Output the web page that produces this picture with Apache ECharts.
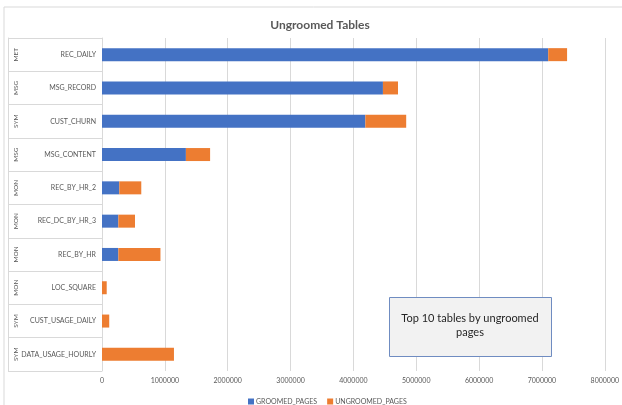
<!DOCTYPE html>
<html>
<head>
<meta charset="utf-8">
<script src="https://cdn.jsdelivr.net/npm/echarts@6/dist/echarts.min.js"></script>
<style>
html,body{margin:0;padding:0;background:#fff;}
#c{width:622px;height:405px;}
</style>
</head>
<body>
<div id="c"></div>
<script>
var categories = ['REC_DAILY','MSG_RECORD','CUST_CHURN','MSG_CONTENT','REC_BY_HR_2','REC_DC_BY_HR_3','REC_BY_HR','LOC_SQUARE','CUST_USAGE_DAILY','DATA_USAGE_HOURLY'];
var groups = ['MET','MSG','SYM','MSG','MON','MON','MON','MON','SYM','SYM'];
var groomedPages = [7100000, 4470000, 4190000, 1335000, 275000, 260000, 260000, 0, 0, 0];
var ungroomedPages = [300000, 240000, 650000, 385000, 350000, 265000, 670000, 75000, 115000, 1145000];
var xTicks = { min: 0, max: 8000000, interval: 1000000 };
var titleText = 'Ungroomed Tables';
var noteText = 'Top 10 tables by ungroomed\npages';

var FONT = 'Lato';
var chart = echarts.init(document.getElementById('c'), null, {renderer: 'canvas'});
chart.setOption({
  animation: false,
  backgroundColor: '#ffffff',
  textStyle: {fontFamily: FONT},
  title: {
    text: titleText, left: 315, top: 14, textAlign: 'center',
    textStyle: {fontFamily: FONT, fontSize: 12, fontWeight: 'bold', color: '#595959'}
  },
  legend: {
    left: 243, top: 393, icon: 'rect', itemWidth: 6, itemHeight: 6, itemGap: 10,
    textStyle: {fontFamily: FONT, fontSize: 7, color: '#595959', padding: [0,0,0,-3]},
    data: ['GROOMED_PAGES','UNGROOMED_PAGES']
  },
  grid: {left: 102, top: 38, right: 17, bottom: 34, containLabel: false},
  xAxis: {
    type: 'value', min: xTicks.min, max: xTicks.max, interval: xTicks.interval,
    axisLine: {show: false}, axisTick: {show: false},
    axisLabel: {fontFamily: FONT, fontSize: 7, color: '#595959', margin: 6,
      formatter: function (v) { return String(v); }},
    splitLine: {lineStyle: {color: '#d9d9d9', width: 1}}
  },
  yAxis: [{
    type: 'category', data: categories, inverse: true,
    axisLine: {show: true, lineStyle: {color: '#d9d9d9'}},
    axisTick: {show: true, length: 94, lineStyle: {color: '#d9d9d9'}},
    axisLabel: {fontFamily: FONT, fontSize: 7, color: '#595959', margin: 6}
  }, {
    type: 'category', data: groups, inverse: true, position: 'left', offset: 94,
    axisLine: {show: true, lineStyle: {color: '#d9d9d9'}},
    axisTick: {show: false},
    axisLabel: {fontFamily: FONT, fontSize: 6.5, color: '#595959', rotate: 90, margin: -11}
  }],
  series: [{
    name: 'GROOMED_PAGES', type: 'bar', stack: 'total', data: groomedPages,
    barWidth: 13, itemStyle: {color: '#4472C4'}
  }, {
    name: 'UNGROOMED_PAGES', type: 'bar', stack: 'total', data: ungroomedPages,
    barWidth: 13, itemStyle: {color: '#ED7D31'}
  }],
  graphic: [{
    type: 'rect', shape: {x: 4, y: 7, width: 640, height: 420}, silent: true, z: -10,
    style: {fill: null, stroke: '#d9d9d9', lineWidth: 1}
  }, {
    type: 'rect', shape: {x: 389.5, y: 297.5, width: 162, height: 59}, z: 100,
    style: {fill: '#f2f2f2', stroke: '#6f8cc1', lineWidth: 1}
  }, {
    type: 'text', x: 470, y: 325, z: 101,
    style: {text: noteText, fontFamily: FONT, fontSize: 11, fill: '#262626', align: 'center', verticalAlign: 'middle', lineHeight: 14}
  }]
});
</script>
</body>
</html>
